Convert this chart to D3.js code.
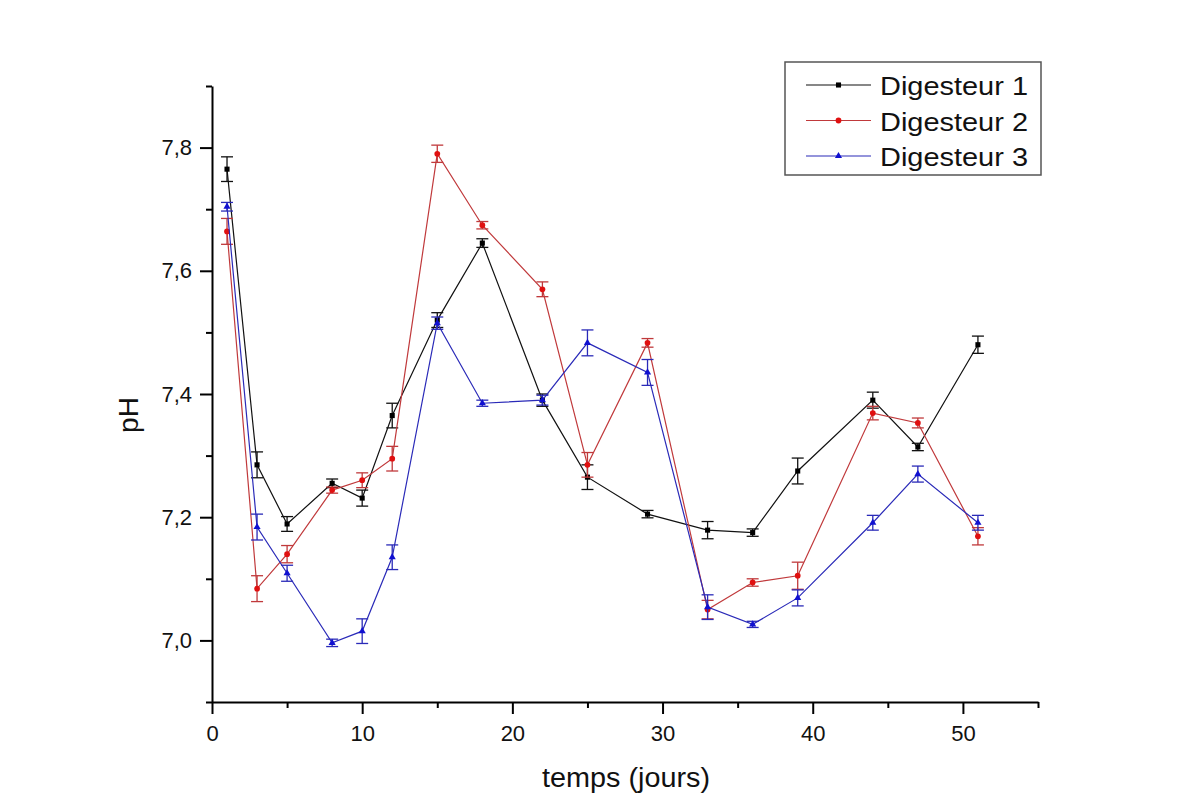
<!DOCTYPE html>
<html>
<head>
<meta charset="utf-8">
<script src="https://cdn.jsdelivr.net/npm/d3@7"></script>
<style>
  body { margin: 0; background: #fff; }
  svg text { font-family: "Liberation Sans", Arial, sans-serif; fill: #111; }
  .axis path, .axis line { stroke: #000; stroke-width: 2; }
</style>
</head>
<body>
<svg id="chart" width="1196" height="810"></svg>
<script>
// days of measurement
const days = [1, 3, 5, 8, 10, 12, 15, 18, 22, 25, 29, 33, 36, 39, 44, 47, 51];

const ph1 = [7.765, 7.285, 7.189, 7.255, 7.231, 7.365, 7.52, 7.645, 7.39, 7.265, 7.205, 7.179, 7.175, 7.275, 7.39, 7.314, 7.48];
const err1 = [0.02, 0.021, 0.012, 0.007, 0.013, 0.02, 0.012, 0.007, 0.01, 0.02, 0.006, 0.014, 0.006, 0.021, 0.013, 0.006, 0.014];

const ph2 = [7.664, 7.084, 7.14, 7.244, 7.26, 7.295, 7.79, 7.674, 7.57, 7.285, 7.483, 7.05, 7.094, 7.105, 7.369, 7.353, 7.169];
const err2 = [0.021, 0.021, 0.014, 0.005, 0.012, 0.02, 0.014, 0.006, 0.012, 0.02, 0.007, 0.015, 0.006, 0.022, 0.011, 0.008, 0.014];

const ph3 = [7.704, 7.184, 7.109, 6.996, 7.015, 7.135, 7.515, 7.385, 7.39, 7.483, 7.435, 7.054, 7.026, 7.069, 7.191, 7.27, 7.191];
const err3 = [0.007, 0.021, 0.013, 0.006, 0.02, 0.02, 0.01, 0.005, 0.008, 0.021, 0.021, 0.02, 0.005, 0.013, 0.012, 0.013, 0.012];

const names = ['Digesteur 1', 'Digesteur 2', 'Digesteur 3'];
const lineColors = ['#111111', '#c0393b', '#2a2ab8'];
const markColors = ['#000000', '#e01010', '#1010d0'];
const markShapes = [d3.symbolSquare, d3.symbolCircle, d3.symbolTriangle];

const xTicks = [0, 10, 20, 30, 40, 50];
const xMinor = [5, 15, 25, 35, 45, 55];
const yTicks = [7.0, 7.2, 7.4, 7.6, 7.8];
const yMinor = [6.9, 7.1, 7.3, 7.5, 7.7, 7.9];

(function () {
    const svg = d3.select('#chart');
    const m = { left: 212, right: 1038, top: 86, bottom: 702 };

    const x = d3.scaleLinear().domain([0, 55]).range([m.left, m.right]);
    const y = d3.scaleLinear().domain([6.9, 7.9]).range([m.bottom, m.top]);

    const fmt = d => d3.format('.1f')(d).replace('.', ',');

    // x axis, major + minor ticks
    const xAxis = svg.append('g').attr('class', 'axis')
        .attr('transform', `translate(0,${m.bottom})`)
        .call(d3.axisBottom(x).tickValues(xTicks).tickSize(12).tickSizeOuter(0).tickPadding(11));
    xAxis.selectAll('text').style('font-size', '22px');
    svg.append('g').attr('class', 'axis')
        .attr('transform', `translate(0,${m.bottom})`)
        .call(d3.axisBottom(x).tickValues(xMinor).tickSize(6).tickFormat(''))
        .select('.domain').remove();

    // y axis
    const yAxis = svg.append('g').attr('class', 'axis')
        .attr('transform', `translate(${m.left},0)`)
        .call(d3.axisLeft(y).tickValues(yTicks).tickFormat(fmt).tickSize(12).tickSizeOuter(0).tickPadding(8));
    yAxis.selectAll('text').style('font-size', '22px');
    svg.append('g').attr('class', 'axis')
        .attr('transform', `translate(${m.left},0)`)
        .call(d3.axisLeft(y).tickValues(yMinor).tickSize(6).tickFormat(''))
        .select('.domain').remove();

    // titles
    svg.append('text').attr('x', (m.left + m.right) / 2 + 1).attr('y', 787)
        .attr('text-anchor', 'middle').style('font-size', '27px')
        .attr('textLength', 168).attr('lengthAdjust', 'spacingAndGlyphs')
        .text('temps (jours)');
    svg.append('text').attr('transform', 'translate(138,415) rotate(-90)')
        .attr('text-anchor', 'middle').style('font-size', '28px').text('pH');

    // series
    const series = [[ph1, err1], [ph2, err2], [ph3, err3]];
    const line = d3.line().x(d => x(d.day)).y(d => y(d.v));

    series.forEach(([vals, errs], i) => {
        const pts = days.map((d, j) => ({ day: d, v: vals[j], e: errs[j] }));
        const g = svg.append('g');
        g.append('path').datum(pts).attr('d', line)
            .attr('fill', 'none').attr('stroke', lineColors[i]).attr('stroke-width', 1.2);

        const eb = g.selectAll('.eb').data(pts).enter().append('g')
            .attr('stroke', lineColors[i]).attr('stroke-width', 1.3);
        eb.append('line').attr('x1', d => x(d.day)).attr('x2', d => x(d.day))
            .attr('y1', d => y(d.v + d.e)).attr('y2', d => y(d.v - d.e));
        eb.append('line').attr('x1', d => x(d.day) - 6).attr('x2', d => x(d.day) + 6)
            .attr('y1', d => y(d.v + d.e)).attr('y2', d => y(d.v + d.e));
        eb.append('line').attr('x1', d => x(d.day) - 6).attr('x2', d => x(d.day) + 6)
            .attr('y1', d => y(d.v - d.e)).attr('y2', d => y(d.v - d.e));

        g.selectAll('.pt').data(pts).enter().append('path')
            .attr('transform', d => `translate(${x(d.day)},${y(d.v)})`)
            .attr('d', d3.symbol().type(markShapes[i]).size(i === 2 ? 22 : 26))
            .attr('fill', markColors[i]);
    });

    // legend
    const lg = svg.append('g');
    lg.append('rect').attr('x', 785).attr('y', 62).attr('width', 256).attr('height', 113)
        .attr('fill', '#fff').attr('stroke', '#555').attr('stroke-width', 1.5);
    names.forEach((n, i) => {
        const cy = 85 + i * 35.5;
        lg.append('line').attr('x1', 806).attr('x2', 871).attr('y1', cy).attr('y2', cy)
            .attr('stroke', lineColors[i]).attr('stroke-width', 1.2);
        lg.append('path').attr('transform', `translate(838.5,${cy})`)
            .attr('d', d3.symbol().type(markShapes[i]).size(i === 2 ? 22 : 26))
            .attr('fill', markColors[i]);
        lg.append('text').attr('x', 880).attr('y', cy + 10).style('font-size', '25px')
            .attr('textLength', 148).attr('lengthAdjust', 'spacingAndGlyphs').text(n);
    });
})();
</script>
</body>
</html>
